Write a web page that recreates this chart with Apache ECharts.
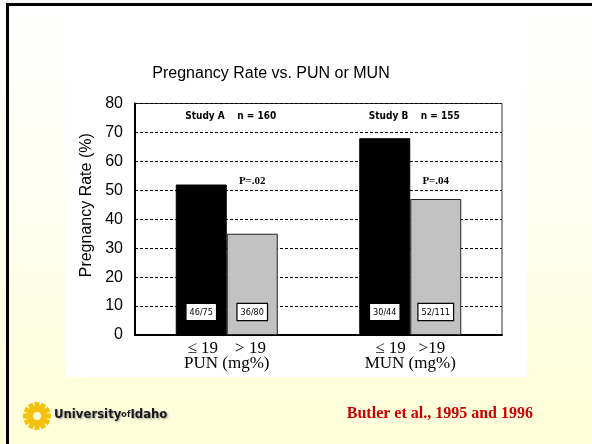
<!DOCTYPE html>
<html>
<head>
<meta charset="utf-8">
<script src="https://cdn.jsdelivr.net/npm/echarts@6/dist/echarts.min.js"></script>
<style>
  html, body { margin: 0; padding: 0; }
  #main { width: 592px; height: 444px; }
</style>
</head>
<body>
<div id="main"></div>
<script>
// data
var categories = ["PUN", "MUN"];
var axisLabels = ["{u|≤ 19}    > 19\nPUN (mg%)", "{u|≤ 19}   >19\nMUN (mg%)"];
var lowRate = [52, 68];          // <= 19 mg%
var highRate = [35, 47];         // > 19 mg%
var lowCounts = ["46/75", "30/44"];
var highCounts = ["36/80", "52/111"];
var studyNames = ["Study A    n = 160", "Study B    n = 155"];
var pValues = ["P=.02", "P=.04"];
var yTicks = [0, 10, 20, 30, 40, 50, 60, 70, 80];

var myChart = echarts.init(document.getElementById("main"));

var countLabel = function (texts) {
  return {
    show: true,
    position: "insideBottom",
    distance: 15,
    formatter: function (p) { return texts[p.dataIndex]; },
    backgroundColor: "#fff",
    borderColor: "#000",
    borderWidth: 1.2,
    padding: [4, 3, 3, 3],
    color: "#000",
    fontSize: 9,
    fontFamily: "DejaVu Sans Condensed"
  };
};

// little sunburst for the logo
var sun = [];
for (var i = 0; i < 12; i++) {
  sun.push({
    type: "rect",
    x: 37, y: 416,
    rotation: i * Math.PI / 6,
    shape: { x: -2.5, y: 6, width: 5, height: 8 },
    style: { fill: "#F4C20D" },
    z: -5
  });
}
sun.push({ type: "ring", shape: { cx: 37, cy: 416, r: 9, r0: 4 }, style: { fill: "#F4C20D" }, z: -5 });

var option = {
  animation: false,
  grid: {
    left: 135,
    right: 90,
    top: 103.5,
    bottom: 109,
    show: true,
    backgroundColor: "transparent",
    borderColor: "#333",
    borderWidth: 1
  },
  xAxis: {
    type: "category",
    data: categories,
    axisLine: { lineStyle: { color: "#000", width: 2 } },
    axisTick: { show: false },
    axisLabel: {
      formatter: function (v, idx) { return axisLabels[idx]; },
      margin: 6,
      color: "#000",
      fontSize: 17,
      lineHeight: 15,
      fontFamily: "Liberation Serif",
      rich: {
        u: { fontSize: 17, fontFamily: "Liberation Serif", color: "#000" }
      }
    }
  },
  yAxis: {
    type: "value",
    min: 0,
    max: 80,
    interval: 10,
    name: "Pregnancy Rate (%)",
    nameLocation: "middle",
    nameGap: 34,
    nameTextStyle: {
      color: "#000",
      fontSize: 16,
      fontFamily: "Liberation Sans",
      padding: [0, 0, 0, 28]
    },
    axisLine: { show: true, lineStyle: { color: "#000", width: 2 } },
    axisTick: { show: false },
    axisLabel: {
      color: "#000",
      fontSize: 16,
      margin: 12,
      fontFamily: "Liberation Sans",
      formatter: function (v) { return yTicks.indexOf(v) >= 0 ? String(v) : ""; }
    },
    splitLine: { lineStyle: { color: "#000", type: [3, 2], width: 1 } }
  },
  series: [
    {
      name: "≤ 19",
      type: "bar",
      data: lowRate,
      barWidth: 51,
      barGap: "0%",
      itemStyle: { color: "#000", borderColor: "#000", borderWidth: 1 },
      label: countLabel(lowCounts)
    },
    {
      name: "> 19",
      type: "bar",
      data: highRate,
      barWidth: 51,
      itemStyle: { color: "#c2c2c2", borderColor: "#222", borderWidth: 1 },
      label: countLabel(highCounts)
    }
  ],
  graphic: [
    {
      type: "rect",
      shape: { x: 0, y: 0, width: 592, height: 444 },
      style: {
        fill: new echarts.graphic.LinearGradient(0, 0, 0, 1, [
          { offset: 0, color: "#FFFFFF" },
          { offset: 0.25, color: "#FEFEF8" },
          { offset: 1, color: "#FFFFD9" }
        ])
      },
      z: -20
    },
    { type: "rect", shape: { x: 65, y: 20, width: 462, height: 357 }, style: { fill: "#FFFFFF" }, z: -19 },
    { type: "rect", shape: { x: 6, y: 3, width: 586, height: 3 }, style: { fill: "#000" }, z: -18 },
    { type: "rect", shape: { x: 6, y: 3, width: 3, height: 441 }, style: { fill: "#000" }, z: -18 },
    {
      type: "text", x: 271, y: 74,
      style: {
        text: "Pregnancy Rate vs. PUN or MUN", align: "center", verticalAlign: "middle",
        fill: "#000", fontSize: 16, fontFamily: "Liberation Sans"
      }
    },
    {
      type: "text", x: 54, y: 415,
      style: {
        text: "{a|University}{b|of}{a|Idaho}", verticalAlign: "middle",
        rich: {
          a: { fontSize: 13, fontWeight: "bold", fontFamily: "DejaVu Sans Condensed", fill: "#1a1a1a", textShadowColor: "#999", textShadowBlur: 2, textShadowOffsetX: 1, textShadowOffsetY: 1 },
          b: { fontSize: 9, fontWeight: "bold", fontFamily: "DejaVu Sans Condensed", fill: "#1a1a1a" }
        }
      },
      z: -4
    },
    {
      type: "text", x: 533, y: 414,
      style: {
        text: "Butler et al., 1995 and 1996", align: "right", verticalAlign: "middle",
        fill: "#CC0000", fontSize: 16, fontWeight: "bold", fontFamily: "Liberation Serif"
      }
    }
  ].concat(sun)
};

myChart.setOption(option);

// annotations placed through the axes
var halfBar = 25.5;
var notes = [];
for (var k = 0; k < categories.length; k++) {
  var studyPos = myChart.convertToPixel({ gridIndex: 0 }, [k, 75.5]);
  notes.push({
    type: "text", x: studyPos[0] + 4, y: studyPos[1],
    style: {
      text: studyNames[k], align: "center", verticalAlign: "middle",
      fill: "#000", fontSize: 10, fontWeight: "bold", fontFamily: "DejaVu Sans Condensed"
    }
  });
  var pPos = myChart.convertToPixel({ gridIndex: 0 }, [k, 53.3]);
  notes.push({
    type: "text", x: pPos[0] + halfBar, y: pPos[1],
    style: {
      text: pValues[k], align: "center", verticalAlign: "middle",
      fill: "#000", fontSize: 11, fontWeight: "bold", fontFamily: "Liberation Serif"
    }
  });
}
myChart.setOption({ graphic: option.graphic.concat(notes) });
</script>
</body>
</html>
